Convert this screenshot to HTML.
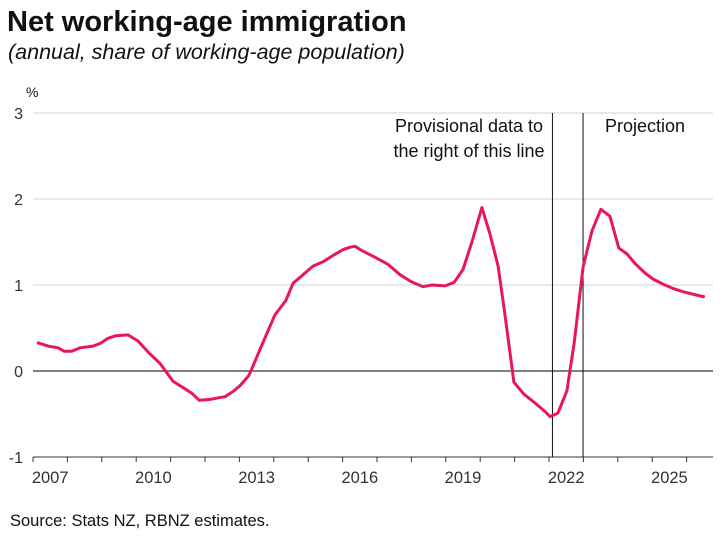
<!DOCTYPE html>
<html><head><meta charset="utf-8"><style>
body{margin:0;background:#fff;font-family:"Liberation Sans",sans-serif;}
svg text{font-family:"Liberation Sans",sans-serif;}
</style></head><body>
<svg id="c" width="721" height="537">
<text x="7" y="31" font-size="29" font-weight="bold" fill="#111">Net working-age immigration</text>
<text x="8" y="59" font-size="21.5" font-style="italic" fill="#111">(annual, share of working-age population)</text>
<text x="26" y="97" font-size="14" fill="#111">%</text>
<text x="10" y="526" font-size="16.5" fill="#111">Source: Stats NZ, RBNZ estimates.</text>
<g id="grid"></g><g id="marks"></g>
</svg>
<script>
const years=[2007.12,2007.44,2007.73,2007.9,2008.13,2008.37,2008.74,2008.95,2009.18,2009.41,2009.76,2010.05,2010.37,2010.69,2011.07,2011.39,2011.62,2011.83,2012.15,2012.41,2012.58,2012.81,2013.02,2013.28,2013.6,2014.03,2014.35,2014.56,2014.85,2015.14,2015.43,2015.75,2016.01,2016.22,2016.36,2016.56,2017.0,2017.32,2017.67,2017.99,2018.34,2018.6,2018.98,2019.24,2019.5,2019.76,2020.05,2020.28,2020.52,2020.72,2020.98,2021.27,2021.62,2021.91,2022.03,2022.26,2022.52,2022.73,2022.99,2023.25,2023.51,2023.77,2024.03,2024.27,2024.5,2024.79,2025.02,2025.31,2025.6,2025.92,2026.22,2026.53];
const values=[0.33,0.29,0.27,0.23,0.23,0.27,0.29,0.32,0.38,0.41,0.42,0.35,0.21,0.09,-0.12,-0.2,-0.26,-0.34,-0.33,-0.31,-0.3,-0.24,-0.17,-0.05,0.25,0.65,0.82,1.02,1.12,1.22,1.27,1.35,1.41,1.44,1.45,1.4,1.31,1.24,1.12,1.04,0.98,1.0,0.99,1.03,1.18,1.5,1.9,1.6,1.22,0.65,-0.13,-0.27,-0.38,-0.48,-0.53,-0.49,-0.23,0.32,1.21,1.63,1.88,1.8,1.43,1.36,1.25,1.14,1.07,1.01,0.96,0.92,0.89,0.86];
const yTicks=[-1,0,1,2,3];
const xLabels=[2007,2010,2013,2016,2019,2022,2025];
const markerYears=[2022.1,2022.99];
const NS="http://www.w3.org/2000/svg";
const X0=33,X1=713;
const x=t=>33+(t-2007)*34.4;
const y=v=>371-86*v;
const grid=document.getElementById('grid'),marks=document.getElementById('marks');
function mk(tag,attrs,parent){const e=document.createElementNS(NS,tag);for(const k in attrs)e.setAttribute(k,attrs[k]);parent.appendChild(e);return e;}
yTicks.forEach(v=>{
  const l=mk('line',{x1:X0,x2:X1,y1:y(v),y2:y(v),stroke:v===0?'#555':(v===-1?'#333':'#d0d0d0'),'stroke-width':v===0?1.5:1},grid);
  
  
  const t=mk('text',{x:23,y:y(v)+6,'text-anchor':'end','font-size':16,fill:'#333'},grid);
  t.textContent=v;
  
  
});
for(let yr=2007;yr<=2026;yr++){
  const tk=mk('line',{x1:x(yr),x2:x(yr),y1:y(-1),y2:y(-1)+5,stroke:'#333'},grid);
  
  
}
xLabels.forEach(yr=>{
  const t=mk('text',{x:x(yr+0.5),y:483,'text-anchor':'middle','font-size':16.5,fill:'#333'},grid);
  t.textContent=yr;
  
  
});
markerYears.forEach(yr=>{
  const l=mk('line',{x1:x(yr),x2:x(yr),y1:113,y2:y(-1),stroke:'#111','stroke-width':1},marks);
  
  
});
const p=mk('path',{d:years.map((t,i)=>(i?'L':'M')+x(t).toFixed(1)+','+y(values[i]).toFixed(1)).join(''),fill:'none',stroke:'#e8175d','stroke-width':3,'stroke-linejoin':'round'},marks);


[['Provisional data to',469,132],['the right of this line',469,157],['Projection',645,132]].forEach(a=>{
  const t=mk('text',{x:a[1],y:a[2],'text-anchor':'middle','font-size':18,fill:'#111'},marks);
  t.textContent=a[0];
  
  
});
</script>
</body></html>
